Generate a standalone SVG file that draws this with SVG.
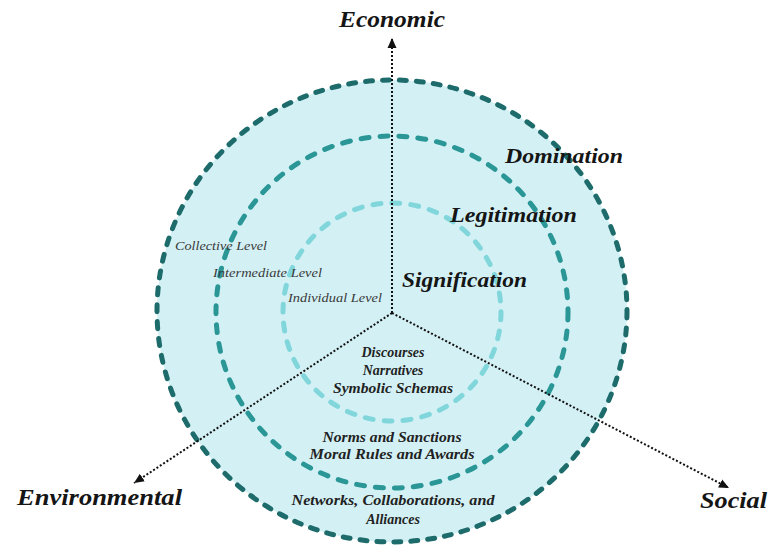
<svg xmlns="http://www.w3.org/2000/svg" width="769" height="546" viewBox="0 0 769 546">
<defs>
<marker id="arr" viewBox="0 0 10 10" refX="10" refY="5" markerWidth="10" markerHeight="10" markerUnits="userSpaceOnUse" orient="auto">
<path d="M0,0.5 L10,5 L0,9.5 z" fill="#111"/>
</marker>
<style>
.ring{fill:none;stroke-width:5;stroke-linecap:round}
.axis{fill:none;stroke:#111;stroke-width:2;stroke-dasharray:2 2}
.big{font-family:"Liberation Serif",serif;font-style:italic;font-weight:bold;fill:#151515}
.lvl{font-family:"Liberation Serif",serif;font-style:italic;font-size:13px;fill:#3a3a3a}
.mid{font-family:"Liberation Serif",serif;font-style:italic;font-weight:bold;font-size:14px;fill:#222;text-anchor:middle}
</style>
</defs>
<rect width="769" height="546" fill="#fff"/>
<g id="circles">
<ellipse id="outer-fill" cx="392" cy="311" rx="235" ry="231" fill="#d3f1f5"/>
<ellipse id="outer" class="ring" cx="392" cy="311" rx="235" ry="231" stroke="#1d6b6b" stroke-dasharray="7 10"/>
<circle id="middle" class="ring" cx="392" cy="312" r="176" stroke="#2b9696" stroke-dasharray="8 11"/>
<circle id="inner" class="ring" cx="392" cy="312" r="109" stroke="#80d6db" stroke-dasharray="8 11"/>
</g>
<g id="connectors">
<line class="axis" x1="392" y1="313" x2="392" y2="38" marker-end="url(#arr)"/>
<line class="axis" x1="392" y1="313" x2="134" y2="483" marker-end="url(#arr)"/>
<line class="axis" x1="392" y1="313" x2="729" y2="488" marker-end="url(#arr)"/>
</g>
<g id="axis-labels">
<text class="big" x="339" y="27" font-size="23" textLength="106" lengthAdjust="spacingAndGlyphs">Economic</text>
<text class="big" x="17" y="505" font-size="24" textLength="165" lengthAdjust="spacingAndGlyphs">Environmental</text>
<text class="big" x="700" y="508" font-size="24" textLength="67" lengthAdjust="spacingAndGlyphs">Social</text>
</g>
<g id="ring-labels">
<text class="big" x="505" y="163" font-size="20" textLength="118" lengthAdjust="spacingAndGlyphs">Domination</text>
<text class="big" x="450" y="222" font-size="20" textLength="127" lengthAdjust="spacingAndGlyphs">Legitimation</text>
<text class="big" x="402" y="287" font-size="20" textLength="125" lengthAdjust="spacingAndGlyphs">Signification</text>
</g>
<g id="level-labels">
<text class="lvl" x="175" y="250" textLength="92" lengthAdjust="spacingAndGlyphs">Collective Level</text>
<text class="lvl" x="213" y="277" textLength="109" lengthAdjust="spacingAndGlyphs">Intermediate Level</text>
<text class="lvl" x="288" y="302" textLength="94" lengthAdjust="spacingAndGlyphs">Individual Level</text>
</g>
<g id="contents">
<text class="mid" x="393" y="357">Discourses</text>
<text class="mid" x="393" y="375">Narratives</text>
<text class="mid" x="393" y="393" textLength="120" lengthAdjust="spacingAndGlyphs">Symbolic Schemas</text>
<text class="mid" x="392" y="442" textLength="139" lengthAdjust="spacingAndGlyphs">Norms and Sanctions</text>
<text class="mid" x="392" y="459" textLength="165" lengthAdjust="spacingAndGlyphs">Moral Rules and Awards</text>
<text class="mid" x="393" y="505" textLength="203" lengthAdjust="spacingAndGlyphs">Networks, Collaborations, and</text>
<text class="mid" x="393" y="524">Alliances</text>
</g>
</svg>
